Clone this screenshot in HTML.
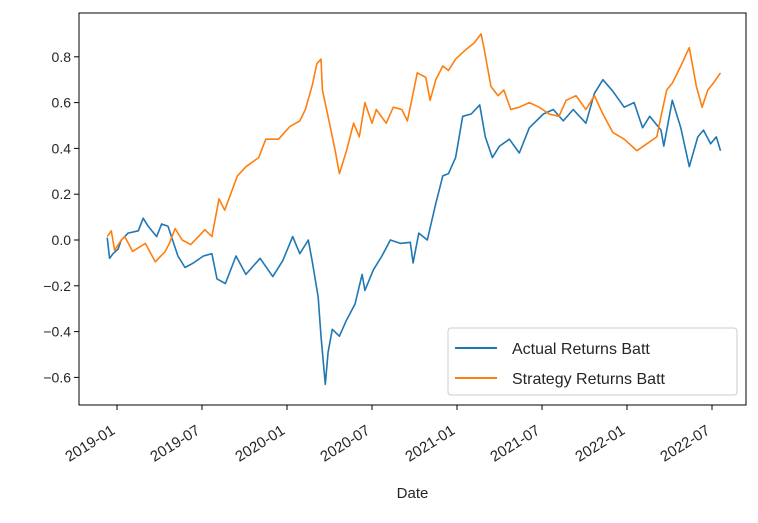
<!DOCTYPE html>
<html><head><meta charset="utf-8"><style>
body{margin:0;background:#fff;}
svg text{font-family:"Liberation Sans","DejaVu Sans",sans-serif;fill:#262626;}
</style></head><body>
<svg id="chart" width="758" height="518" viewBox="0 0 758 518" xmlns="http://www.w3.org/2000/svg">
<g id="plot"></g>
</svg>
<script>
// x = months since 2019-01, y = cumulative return
const actualMonths=[-0.69,-0.52,-0.28,0.07,0.3,0.78,1.5,1.85,2.2,2.8,3.15,3.6,4.0,4.3,4.8,5.4,6.1,6.7,7.06,7.65,8.4,9.1,10.1,11.0,11.7,12.4,12.9,13.5,13.8,14.2,14.4,14.7,14.9,15.2,15.7,16.2,16.8,17.3,17.5,18.1,18.7,19.3,20.0,20.7,20.9,21.3,21.9,22.5,23.0,23.4,23.9,24.4,25.0,25.6,26.0,26.5,27.0,27.7,28.4,29.1,30.1,30.8,31.5,32.2,33.1,33.7,34.3,35.0,35.8,36.5,37.1,37.6,38.4,38.6,39.2,39.8,40.4,41.0,41.4,41.9,42.3,42.6];
const actualValues=[0.01,-0.08,-0.06,-0.04,0.0,0.03,0.04,0.095,0.06,0.015,0.07,0.06,-0.015,-0.07,-0.12,-0.10,-0.07,-0.06,-0.17,-0.19,-0.07,-0.15,-0.08,-0.16,-0.09,0.015,-0.06,0.0,-0.10,-0.25,-0.42,-0.63,-0.49,-0.39,-0.42,-0.35,-0.28,-0.15,-0.22,-0.13,-0.07,0.0,-0.015,-0.01,-0.10,0.03,0.0,0.16,0.28,0.29,0.36,0.54,0.55,0.59,0.45,0.36,0.41,0.44,0.38,0.49,0.55,0.57,0.52,0.57,0.51,0.64,0.70,0.65,0.58,0.60,0.49,0.54,0.48,0.41,0.61,0.49,0.32,0.45,0.48,0.42,0.45,0.39];
const strategyMonths=[-0.69,-0.4,-0.17,0.3,0.55,1.1,2.0,2.7,3.4,3.7,4.1,4.6,5.2,5.75,6.2,6.7,7.2,7.6,8.5,9.1,10.0,10.5,11.4,12.2,12.9,13.3,13.8,14.1,14.4,14.5,15.0,15.4,15.7,16.2,16.7,17.1,17.5,18.0,18.3,19.0,19.5,20.1,20.5,20.9,21.2,21.8,22.1,22.5,23.0,23.4,23.9,24.6,25.2,25.7,25.9,26.4,26.9,27.3,27.8,28.4,29.1,29.8,30.5,31.2,31.7,32.4,33.1,33.7,34.3,35.0,35.8,36.7,37.4,38.1,38.4,38.8,39.2,39.8,40.4,40.9,41.3,41.7,42.1,42.6];
const strategyValues=[0.015,0.04,-0.045,0.0,0.015,-0.05,-0.015,-0.095,-0.05,-0.015,0.05,0.0,-0.02,0.015,0.045,0.015,0.18,0.13,0.28,0.32,0.36,0.44,0.44,0.495,0.52,0.57,0.68,0.77,0.79,0.655,0.51,0.39,0.29,0.39,0.51,0.45,0.60,0.51,0.57,0.51,0.58,0.57,0.52,0.64,0.73,0.71,0.61,0.70,0.76,0.74,0.79,0.83,0.86,0.90,0.84,0.67,0.63,0.655,0.57,0.58,0.60,0.58,0.55,0.54,0.61,0.63,0.57,0.63,0.55,0.47,0.44,0.39,0.42,0.45,0.54,0.655,0.685,0.76,0.84,0.67,0.58,0.655,0.685,0.73];
const yTicks=[-0.6,-0.4,-0.2,0.0,0.2,0.4,0.6,0.8];
const yTickLabels=["−0.6","−0.4","−0.2","0.0","0.2","0.4","0.6","0.8"];
const xTicks=[0,6,12,18,24,30,36,42];
const xTickLabels=["2019-01","2019-07","2020-01","2020-07","2021-01","2021-07","2022-01","2022-07"];

const L=79,R=746,T=13,B=405;
const xs=m=>117+m*(712-117)/42;
const ys=v=>240-v*229;
const NS="http://www.w3.org/2000/svg";
const g=document.getElementById('plot');
function el(tag,attrs,parent){const e=document.createElementNS(NS,tag);for(const k in attrs)e.setAttribute(k,attrs[k]);(parent||g).appendChild(e);return e;}

yTicks.forEach((v,i)=>{
  const t=el('line',{x1:L-5,x2:L,y1:ys(v),y2:ys(v),stroke:'#000','stroke-width':1});
  
  
  const tx=el('text',{x:L-8,y:ys(v)+5,'text-anchor':'end','font-size':14});
  tx.textContent=yTickLabels[i];
  
  
});
xTicks.forEach((m,i)=>{
  const t=el('line',{x1:xs(m),x2:xs(m),y1:B,y2:B+5,stroke:'#000','stroke-width':1});
  
  
  const ax=xs(m)-1, ay=B+28;
  const tx=el('text',{x:ax,y:ay,'text-anchor':'end','font-size':15,transform:`rotate(-32 ${ax} ${ay})`});
  tx.textContent=xTickLabels[i];
  
  
});
function series(mx,vals,color,name){
  const p=el('polyline',{points:mx.map((m,i)=>xs(m).toFixed(1)+','+ys(vals[i]).toFixed(1)).join(' '),fill:'none',stroke:color,'stroke-width':1.6,'stroke-linejoin':'round'});
  
  
}
series(actualMonths,actualValues,'#1f77b4','actual-returns-line');
series(strategyMonths,strategyValues,'#ff7f0e','strategy-returns-line');

const frame=el('rect',{x:L,y:T,width:R-L,height:B-T,fill:'none',stroke:'#000','stroke-width':1});



const xt=el('text',{x:(L+R)/2,y:498,'text-anchor':'middle','font-size':15});
xt.textContent='Date';



const lg=el('g',{});


el('rect',{x:448,y:328,width:289,height:67,rx:3,fill:'#fff','fill-opacity':0.8,stroke:'#ccc'},lg);
[['Actual Returns Batt','#1f77b4',348],['Strategy Returns Batt','#ff7f0e',378]].forEach(([lab,c,y])=>{
  const ln=el('line',{x1:455,x2:497,y1:y,y2:y,stroke:c,'stroke-width':2},lg);
  
  
  const t=el('text',{x:512,y:y+6,'font-size':16},lg);
  t.textContent=lab;
  
  
});
</script>
</body></html>
